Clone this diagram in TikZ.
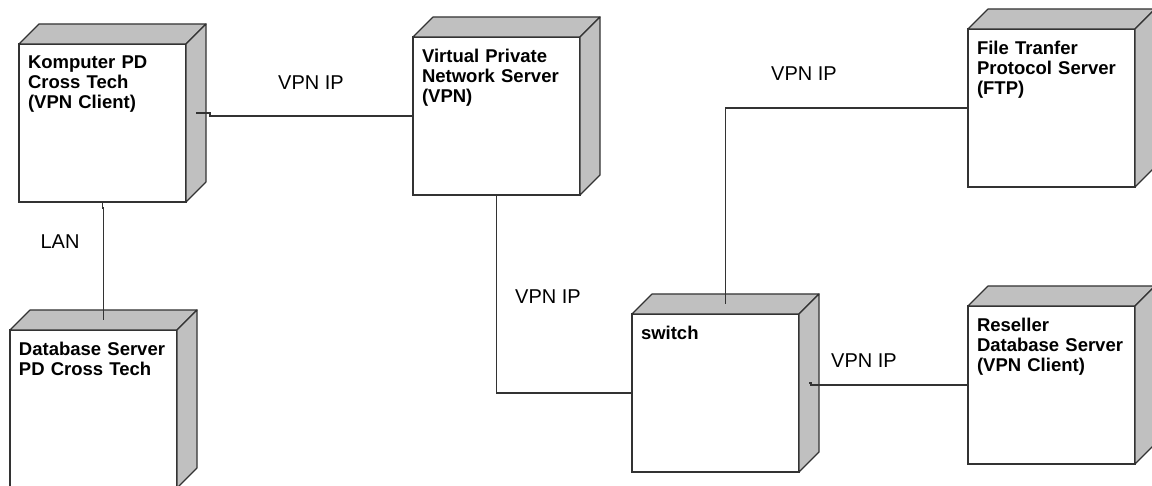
\documentclass[tikz,border=0pt]{standalone}
\usepackage{fontspec}
\setmainfont{Liberation Sans}
\usetikzlibrary{calc}
\definecolor{sidegray}{HTML}{C0C0C0}
\definecolor{linegray}{HTML}{333333}
\tikzset{
  devface/.style={draw=linegray, fill=white, line width=1.2pt, minimum width=167pt, minimum height=158pt, inner sep=0pt, outer sep=0pt},
  sideface/.style={draw=linegray, fill=sidegray, line width=1.2pt, line join=round},
  devlabel/.style={inner sep=0pt, outer sep=0pt, align=left, text width=160pt, font=\fontsize{18.5}{20}\selectfont\bfseries},
  conn/.style={draw=linegray, line width=1.1pt},
  connlabel/.style={inner sep=0pt, font=\fontsize{20}{24}\selectfont}
}
\newcommand\devbox[4]{%
  \node[devface, anchor=north west] (#1) at (#2,#3) {};
  \draw[sideface] (#1.north west) -- ++(20,-20) -- ($(#1.north east)+(20,-20)$) -- (#1.north east) -- cycle;
  \draw[sideface] (#1.north east) -- ++(20,-20) -- ($(#1.south east)+(20,-20)$) -- (#1.south east) -- cycle;
  \node[devlabel, anchor=north west] (#1-t) at ([xshift=9pt,yshift=-12pt]#1.north west) {#4};
}
\begin{document}
\begin{tikzpicture}[x=1pt,y=-1pt]
\useasboundingbox (0,0) rectangle (1152,486);
\devbox{k}{19}{44}{Komputer PD\\Cross Tech\\(VPN Client)}
\devbox{vpn}{413}{37}{Virtual Private\\Network Server\\(VPN)}
\devbox{ftp}{968}{29}{File Tranfer\\Protocol Server\\(FTP)}
\devbox{db}{10}{330}{Database Server\\PD Cross Tech}
\devbox{sw}{632}{314}{switch}
\devbox{rs}{968}{306}{Reseller\\Database Server\\(VPN Client)}
% connectors
\draw[conn] ($(k.east)+(10,-10)$) -- ++(14,0) |- (vpn.west);
\draw[conn] (k.south) -- ++(0,6) -| ($(db.north)+(10,-10)$);
\draw[conn] (vpn.south) |- (sw.west);
\draw[conn] ($(sw.north)+(10,-10)$) |- (ftp.west);
\draw[conn] ($(sw.east)+(10,-10)$) -- ++(2,0) |- (rs.west);
% labels
\node[connlabel] (l1) at (311,83) {VPN IP};
\node[connlabel] (l2) at (60,242) {LAN};
\node[connlabel] (l3) at (548,297) {VPN IP};
\node[connlabel] (l4) at (804,74) {VPN IP};
\node[connlabel] (l5) at (864,361) {VPN IP};
\end{tikzpicture}
\end{document}
